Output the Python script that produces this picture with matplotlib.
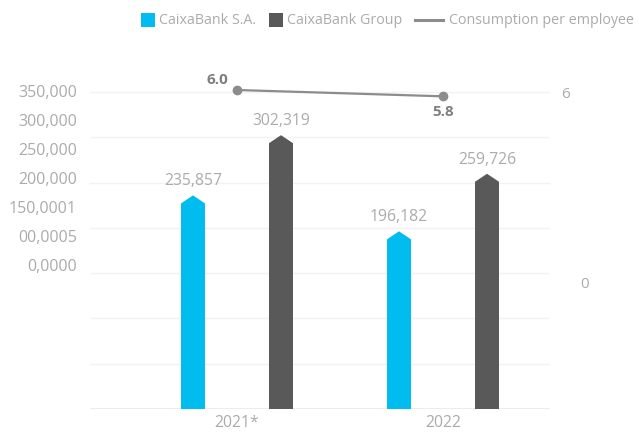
import numpy as np
import matplotlib
matplotlib.use('Agg')
from matplotlib import pyplot as plt
from matplotlib.patches import Rectangle, Polygon
from matplotlib.lines import Line2D

plt.rcParams['font.family'] = ['Open Sans', 'DejaVu Sans']

# data
years = ['2021*', '2022']
caixabank_sa = [235857, 196182]
caixabank_group = [302319, 259726]
consumption = [6.0, 5.8]
# left axis labels as they appear (garbled in the original)
left_labels = ['350,000', '300,000', '250,000', '200,000', '150,0001', '00,0005', '0,0000']
right_labels = ['6', '0']
grid_vals = np.arange(0, 350001, 50000)

c_sa = '#00BCEF'
c_grp = '#595959'
c_line = '#8c8c8c'
c_txt = '#ababab'

W, H = 639, 433
fig = plt.figure(figsize=(W / 100, H / 100), dpi=100)
ax = fig.add_axes([90 / W, (H - 409) / H, 460 / W, 349 / H])

px_per_50k = (409 - 92) / 7
ymax = 349 / px_per_50k * 50000
ax.set_ylim(0, ymax)
ax.set_xlim(-147 / 206, 1 + 107 / 206)

x = np.arange(len(years))
off = 44 / 206
bw = 24 / 206
tip = 8 / px_per_50k * 50000


def arrow_bar(xc, v, color):
    pts = [(xc - bw / 2, 0), (xc + bw / 2, 0), (xc + bw / 2, v - tip),
           (xc, v), (xc - bw / 2, v - tip)]
    ax.add_patch(Polygon(pts, closed=True, facecolor=color, edgecolor='none', zorder=3))
    ax.annotate(f'{v:,}', (xc, v), xytext=(0, 10), textcoords='offset points',
                ha='center', va='center', fontsize=11.3, color=c_txt)


for i in range(len(years)):
    arrow_bar(x[i] - off, caixabank_sa[i], c_sa)
    arrow_bar(x[i] + off, caixabank_group[i], c_grp)

ax.set_yticks(grid_vals)
ax.set_yticklabels([])
ax.tick_params(axis='y', length=0)
ax.grid(axis='y', color='#f2f2f2', lw=1, zorder=0)
ax.set_axisbelow(True)
for s in ax.spines.values():
    s.set_visible(False)
ax.axhline(0, color='#ececec', lw=1.5, zorder=1)

ax.set_xticks(x)
ax.set_xticklabels(years, fontsize=11.3, color=c_txt)
ax.tick_params(axis='x', length=0, pad=4)

# left labels, stacked closer than the gridlines like in the original
for i, lab in enumerate(left_labels):
    yv = (409 - (93 + 29 * i)) / 349
    ax.text(-13 / 460, yv, lab, transform=ax.transAxes, ha='right', va='center',
            fontsize=11.5, color=c_txt)

ax2 = ax.twinx()
ax2.set_ylim(-129 / 31.67, 6 + 30 / 31.67)
ax2.set_yticks([])
for s in ax2.spines.values():
    s.set_visible(False)
ax2.plot(x, consumption, color=c_line, lw=1.6, marker='o', ms=6, zorder=5, clip_on=False)
ax2.annotate(f'{consumption[0]:.1f}', (x[0], consumption[0]), xytext=(-14, 7),
             textcoords='offset points', ha='center', va='center',
             fontsize=11, color='#7f7f7f', fontweight='bold')
ax2.annotate(f'{consumption[1]:.1f}', (x[1], consumption[1]), xytext=(0, -11),
             textcoords='offset points', ha='center', va='center',
             fontsize=11, color='#7f7f7f', fontweight='bold')

ax.text((566 - 90) / 460, (409 - 94) / 349, right_labels[0], transform=ax.transAxes,
        ha='center', va='center', fontsize=11, color=c_txt)
ax.text((585 - 90) / 460, (409 - 285) / 349, right_labels[1], transform=ax.transAxes,
        ha='center', va='center', fontsize=11, color=c_txt)

# legend drawn by hand
ly = 1 - 20 / H
fig.add_artist(Rectangle((141 / W, 1 - 27 / H), 14 / W, 14 / H, transform=fig.transFigure,
                         facecolor=c_sa, edgecolor='none'))
fig.text(159 / W, ly, 'CaixaBank S.A.', ha='left', va='center', fontsize=10.3, color=c_txt)
fig.add_artist(Rectangle((269 / W, 1 - 27 / H), 14 / W, 14 / H, transform=fig.transFigure,
                         facecolor=c_grp, edgecolor='none'))
fig.text(287 / W, ly, 'CaixaBank Group', ha='left', va='center', fontsize=10.3, color=c_txt)
fig.add_artist(Line2D([415 / W, 443 / W], [ly, ly], transform=fig.transFigure,
                      color=c_line, lw=2.2))
fig.text(449 / W, ly, 'Consumption per employee', ha='left', va='center',
         fontsize=10.3, color=c_txt)

fig.savefig('out.png', dpi=100)
